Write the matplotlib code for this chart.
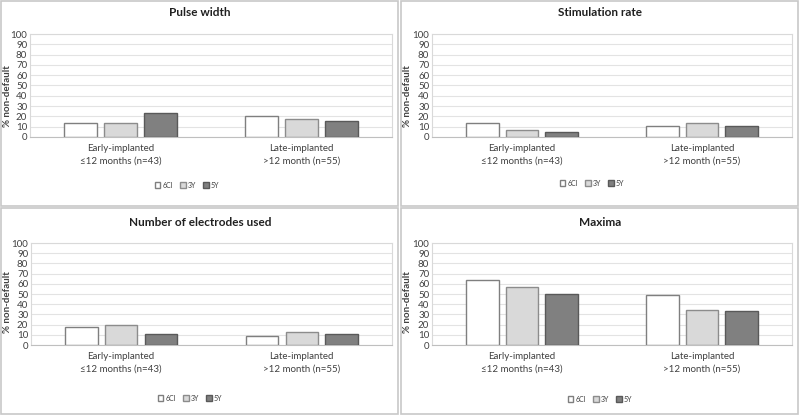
import numpy as np
import matplotlib.pyplot as plt
from matplotlib.patches import Rectangle

plt.rcParams['font.family'] = ['Lato', 'DejaVu Sans']

categories = ['Early-implanted\n≤12 months (n=43)', 'Late-implanted\n>12 month (n=55)']
series = ['6CI', '3Y', '5Y']

titles = ['Pulse width', 'Stimulation rate', 'Number of electrodes used', 'Maxima']
pulse_width = [[14, 20], [14, 17], [23, 16]]
stim_rate = [[14, 11], [7, 14], [5, 11]]
electrodes = [[18, 9], [20, 13], [11, 11]]
maxima = [[64, 49], [57, 34], [50, 33]]
panels = [pulse_width, stim_rate, electrodes, maxima]

face_colors = ['#ffffff', '#d9d9d9', '#808080']
edge_colors = ['#7f7f7f', '#8c8c8c', '#595959']

W, H = 800, 415
fig = plt.figure(figsize=(W / 100, H / 100), dpi=100)

# panel layout in pixels: (panel box, plot area, title y, legend center, ylabel center y)
layout = [
    ((0, 0, 400, 207), (30, 34, 392, 137), 13, (187, 185), 96),
    ((400, 0, 800, 207), (432, 34, 792, 137), 13, (592, 183), 96),
    ((0, 207, 400, 415), (31, 243, 392, 345), 222, (190, 398), 302),
    ((400, 207, 800, 415), (432, 243, 792, 345), 222, (600, 399), 302),
]

x = np.arange(len(categories))
bw = 0.18
step = 0.22

for data, title, (box, area, ty, lc, ly) in zip(panels, titles, layout):
    bx0, by0, bx1, by1 = box
    fig.patches.append(Rectangle((bx0 / W + 0.001, 1 - by1 / H + 0.002),
                                 (bx1 - bx0) / W - 0.003, (by1 - by0) / H - 0.004,
                                 transform=fig.transFigure, fill=False,
                                 edgecolor='#c8c8c8', linewidth=1.2))
    ax0, ay0, ax1, ay1 = area
    ax = fig.add_axes([ax0 / W, 1 - ay1 / H, (ax1 - ax0) / W, (ay1 - ay0) / H])
    handles = []
    for i, vals in enumerate(data):
        h = ax.bar(x + (i - 1) * step, vals, bw, color=face_colors[i],
                   edgecolor=edge_colors[i], linewidth=1, zorder=3, label=series[i])
        handles.append(h)
    ax.set_xlim(-0.5, 1.5)
    ax.set_ylim(0, 100)
    ax.set_yticks(range(0, 101, 10))
    ax.yaxis.grid(True, color='#e3e3e3', linewidth=0.8, zorder=0)
    ax.set_xticks(x)
    ax.set_xticklabels(categories, fontsize=7, color='#404040', linespacing=1.5)
    ax.tick_params(axis='both', length=0, labelsize=7, colors='#404040')
    ax.tick_params(axis='x', pad=5)
    ax.tick_params(axis='y', pad=2)
    for s in ax.spines.values():
        s.set_color('#d9d9d9')
        s.set_linewidth(0.8)
    ax.spines['bottom'].set_color('#bfbfbf')
    ax.set_ylabel('% non-default', fontsize=7, fontweight='bold', color='#404040')
    ax.yaxis.set_label_coords((bx0 + 12 - ax0) / (ax1 - ax0), (ay1 - ly) / (ay1 - ay0))
    fig.text((bx0 + bx1) / 2 / W, 1 - ty / H, title, ha='center', va='center',
             fontsize=8.5, fontweight='bold', color='#202020')
    fig.legend(handles=handles, labels=series, loc='center',
               bbox_to_anchor=(lc[0] / W, 1 - lc[1] / H), ncol=3, frameon=False,
               fontsize=5, handlelength=0.8, handleheight=0.8, handletextpad=0.3,
               columnspacing=1.0, labelcolor='#404040')

fig.savefig('out.png', dpi=100)
